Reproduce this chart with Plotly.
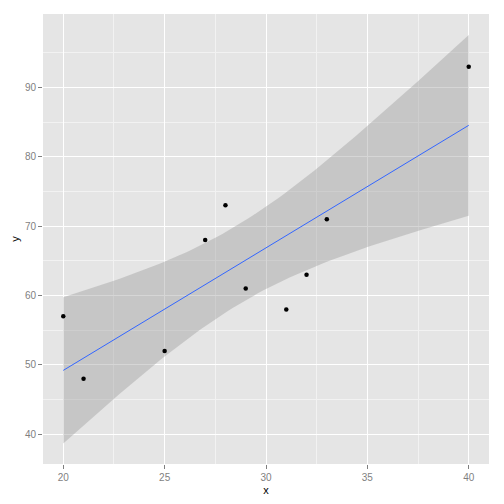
import numpy as np
import plotly.graph_objects as go

# --- data ---
x_vals = [20, 21, 25, 27, 28, 29, 31, 32, 33, 40]
y_vals = [57, 48, 52, 68, 73, 61, 58, 63, 71, 93]

x_ticks = [20, 25, 30, 35, 40]
y_ticks = [40, 50, 60, 70, 80, 90]

# --- linear fit with 95% confidence band (like geom_smooth(method="lm")) ---
x = np.array(x_vals, dtype=float)
y = np.array(y_vals, dtype=float)
n = len(x)
slope, intercept = np.polyfit(x, y, 1)
resid = y - (intercept + slope * x)
s = np.sqrt(np.sum(resid ** 2) / (n - 2))
sxx = np.sum((x - x.mean()) ** 2)
T_CRIT = 2.306004  # t(0.975, df=8)

grid = np.linspace(x.min(), x.max(), 80)
fit = intercept + slope * grid
se = s * np.sqrt(1.0 / n + (grid - x.mean()) ** 2 / sxx)
upper = fit + T_CRIT * se
lower = fit - T_CRIT * se

fig = go.Figure()

fig.add_trace(go.Scatter(x=grid, y=upper, mode='lines', line=dict(width=0),
                         hoverinfo='skip', showlegend=False))
fig.add_trace(go.Scatter(x=grid, y=lower, mode='lines', line=dict(width=0),
                         fill='tonexty', fillcolor='rgba(153,153,153,0.4)',
                         hoverinfo='skip', showlegend=False))
fig.add_trace(go.Scatter(x=grid, y=fit, mode='lines',
                         line=dict(color='#3366FF', width=1), showlegend=False))
fig.add_trace(go.Scatter(x=x_vals, y=y_vals, mode='markers',
                         marker=dict(color='black', size=4.5), showlegend=False))

axis_common = dict(
    showgrid=True, gridcolor='white', gridwidth=1.2, zeroline=False,
    ticks='outside', ticklen=4, tickcolor='#7F7F7F', tickwidth=1,
    tickfont=dict(color='#7F7F7F', size=10), showline=False, automargin=False,
)

# page body has an 8px margin, so the figure is 496px and margins are offset
fig.update_layout(
    width=496, height=496,
    margin=dict(l=35, r=15, t=6, b=40, autoexpand=False),
    paper_bgcolor='white', plot_bgcolor='#E5E5E5',
    font=dict(family='Liberation Sans, Arial, sans-serif', size=12, color='black'),
    showlegend=False,
)
fig.update_xaxes(range=[19, 41], tickvals=x_ticks,
                 minor=dict(tick0=17.5, dtick=5, showgrid=True, gridcolor='#F2F2F2', ticks=''),
                 title=dict(text='x', standoff=4, font=dict(size=11)), **axis_common)
fig.update_yaxes(range=[35.7, 100.6], tickvals=y_ticks,
                 minor=dict(tick0=35, dtick=10, showgrid=True, gridcolor='#F2F2F2', ticks=''),
                 title=dict(text='y', standoff=3, font=dict(size=11)), **axis_common)

fig.write_html("out.html")
